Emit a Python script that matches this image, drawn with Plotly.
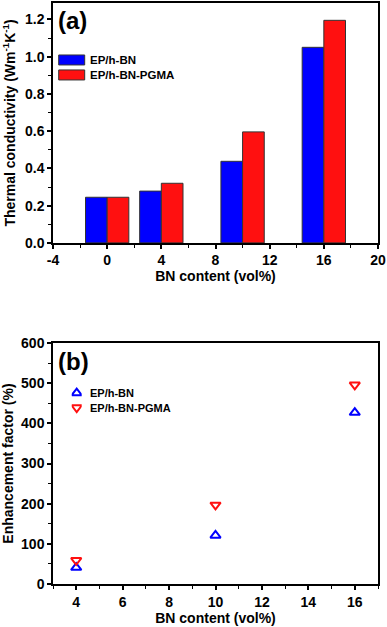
import plotly.graph_objects as go

# ---- data ----
bn_content_a = [0, 4, 10, 16]
tc_ep_hbn = [0.245, 0.278, 0.438, 1.05]
tc_ep_hbn_pgma = [0.245, 0.32, 0.596, 1.195]

bn_content_b = [4, 10, 16]
ef_ep_hbn = [41, 121, 427]
ef_ep_hbn_pgma = [59, 197, 496]

xticks_a = [-4, 0, 4, 8, 12, 16, 20]
xticklabels_a = ["-4", "0", "4", "8", "12", "16", "20"]

series_names = ["EP/h-BN", "EP/h-BN-PGMA"]
BLUE = "#0000FF"
RED = "#FF1010"
FONT = "Liberation Sans, Arial, sans-serif"

W, H = 387, 627
ML, MR, MT, MB = 53.3, 8.7, 3.0, 42.7
AW = W - ML - MR
AH = H - MT - MB
def px_x(p): return (p - ML) / AW
def px_y(p): return (H - MB - p) / AH

fig = go.Figure()

fig.add_trace(go.Bar(x=bn_content_a, y=tc_ep_hbn, name=series_names[0],
                     width=1.6, offset=-1.6, marker=dict(color=BLUE, line=dict(color="#333333", width=1)),
                     xaxis="x", yaxis="y", showlegend=False))
fig.add_trace(go.Bar(x=bn_content_a, y=tc_ep_hbn_pgma, name=series_names[1],
                     width=1.6, offset=0, marker=dict(color=RED, line=dict(color="#333333", width=1)),
                     xaxis="x", yaxis="y", showlegend=False))

fig.add_trace(go.Scatter(x=bn_content_b, y=ef_ep_hbn, mode="markers", name=series_names[0],
                         marker=dict(symbol="triangle-up-open", size=9, color=BLUE, line=dict(width=2, color=BLUE)),
                         xaxis="x2", yaxis="y2", showlegend=False))
fig.add_trace(go.Scatter(x=bn_content_b, y=ef_ep_hbn_pgma, mode="markers", name=series_names[1],
                         marker=dict(symbol="triangle-down-open", size=9, color=RED, line=dict(width=2, color=RED)),
                         xaxis="x2", yaxis="y2", showlegend=False))

# legend markers for (b) on a hidden helper axis
fig.add_trace(go.Scatter(x=[0], y=[0], mode="markers",
                         marker=dict(symbol="triangle-up-open", size=9, color=BLUE, line=dict(width=2, color=BLUE)),
                         xaxis="x3", yaxis="y3", showlegend=False, hoverinfo="skip"))
fig.add_trace(go.Scatter(x=[0], y=[-1], mode="markers",
                         marker=dict(symbol="triangle-down-open", size=9, color=RED, line=dict(width=2, color=RED)),
                         xaxis="x3", yaxis="y3", showlegend=False, hoverinfo="skip"))

tickfont = dict(family=FONT, size=14, color="black", weight="bold")
titlefont = dict(family=FONT, size=14, color="black", weight="bold")
common = dict(showline=True, linecolor="black", linewidth=1.5, mirror=True,
              ticks="outside", ticklen=4, tickwidth=1.5, tickcolor="black",
              showgrid=False, zeroline=False, tickfont=tickfont, automargin=False,
              ticklabeloverflow="allow")
minor_style = dict(ticklen=3, tickwidth=1.2, tickcolor="black", ticks="outside")

xdom = [0, 1]
fig.update_layout(
    width=W, height=H, margin=dict(l=ML, r=MR, t=MT, b=MB, autoexpand=False),
    paper_bgcolor="white", plot_bgcolor="white", barmode="overlay",
    font=dict(family=FONT, color="black"),
    xaxis=dict(domain=xdom, anchor="y", range=[-4, 20], tickmode="array",
               tickvals=xticks_a, ticktext=xticklabels_a,
               minor=dict(dtick=2, tick0=-4, **minor_style),
               title=dict(text="BN content (vol%)", font=titlefont, standoff=4), **common),
    yaxis=dict(domain=[px_y(243), px_y(3)], anchor="x", range=[0, 1.288], tick0=0, dtick=0.2,
               tickformat=".1f",
               minor=dict(dtick=0.1, **minor_style),
               title=dict(text="Thermal conductivity (Wm<sup>-1</sup>K<sup>-1</sup>)", font=titlefont, standoff=6),
               **common),
    xaxis2=dict(domain=xdom, anchor="y2", range=[3, 17], tick0=4, dtick=2,
                minor=dict(dtick=1, **minor_style),
                title=dict(text="BN content (vol%)", font=titlefont, standoff=4), **common),
    yaxis2=dict(domain=[px_y(584.3), px_y(343.3)], anchor="x2", range=[0, 600], tick0=0, dtick=100,
                minor=dict(dtick=50, **minor_style),
                title=dict(text="Enhancement factor (%)", font=titlefont, standoff=6), **common),
    xaxis3=dict(domain=[px_x(72), px_x(82)], anchor="y3", range=[-1, 1], visible=False, fixedrange=True),
    yaxis3=dict(domain=[px_y(415), px_y(386)], anchor="x3", range=[-1.5, 0.5], visible=False, fixedrange=True),
)

# panel labels
fig.add_annotation(text="<b>(a)</b>", x=px_x(56), y=px_y(5), xref="paper", yref="paper",
                   xanchor="left", yanchor="top", showarrow=False, font=dict(family=FONT, size=24, color="black"))
fig.add_annotation(text="<b>(b)</b>", x=px_x(56), y=px_y(346), xref="paper", yref="paper",
                   xanchor="left", yanchor="top", showarrow=False, font=dict(family=FONT, size=24, color="black"))

# legend (a): patches + labels
for i, (col, yc) in enumerate([(BLUE, 60), (RED, 75)]):
    fig.add_shape(type="rect", xref="paper", yref="paper",
                  x0=px_x(59), x1=px_x(85), y0=px_y(yc - 5), y1=px_y(yc + 5),
                  fillcolor=col, line=dict(color="#333333", width=1))
    fig.add_annotation(text="<b>%s</b>" % series_names[i], x=px_x(88), y=px_y(yc), xref="paper", yref="paper",
                       xanchor="left", yanchor="middle", showarrow=False,
                       font=dict(family=FONT, size=11.5, color="black"))

# legend (b): labels
for i, yc in enumerate([393.5, 408.5]):
    fig.add_annotation(text="<b>%s</b>" % series_names[i], x=px_x(88), y=px_y(yc), xref="paper", yref="paper",
                       xanchor="left", yanchor="middle", showarrow=False,
                       font=dict(family=FONT, size=11, color="black"))

fig.write_html("out.html", config={"displayModeBar": False},
               post_script="document.body.style.margin='0';document.body.style.padding='0';")
